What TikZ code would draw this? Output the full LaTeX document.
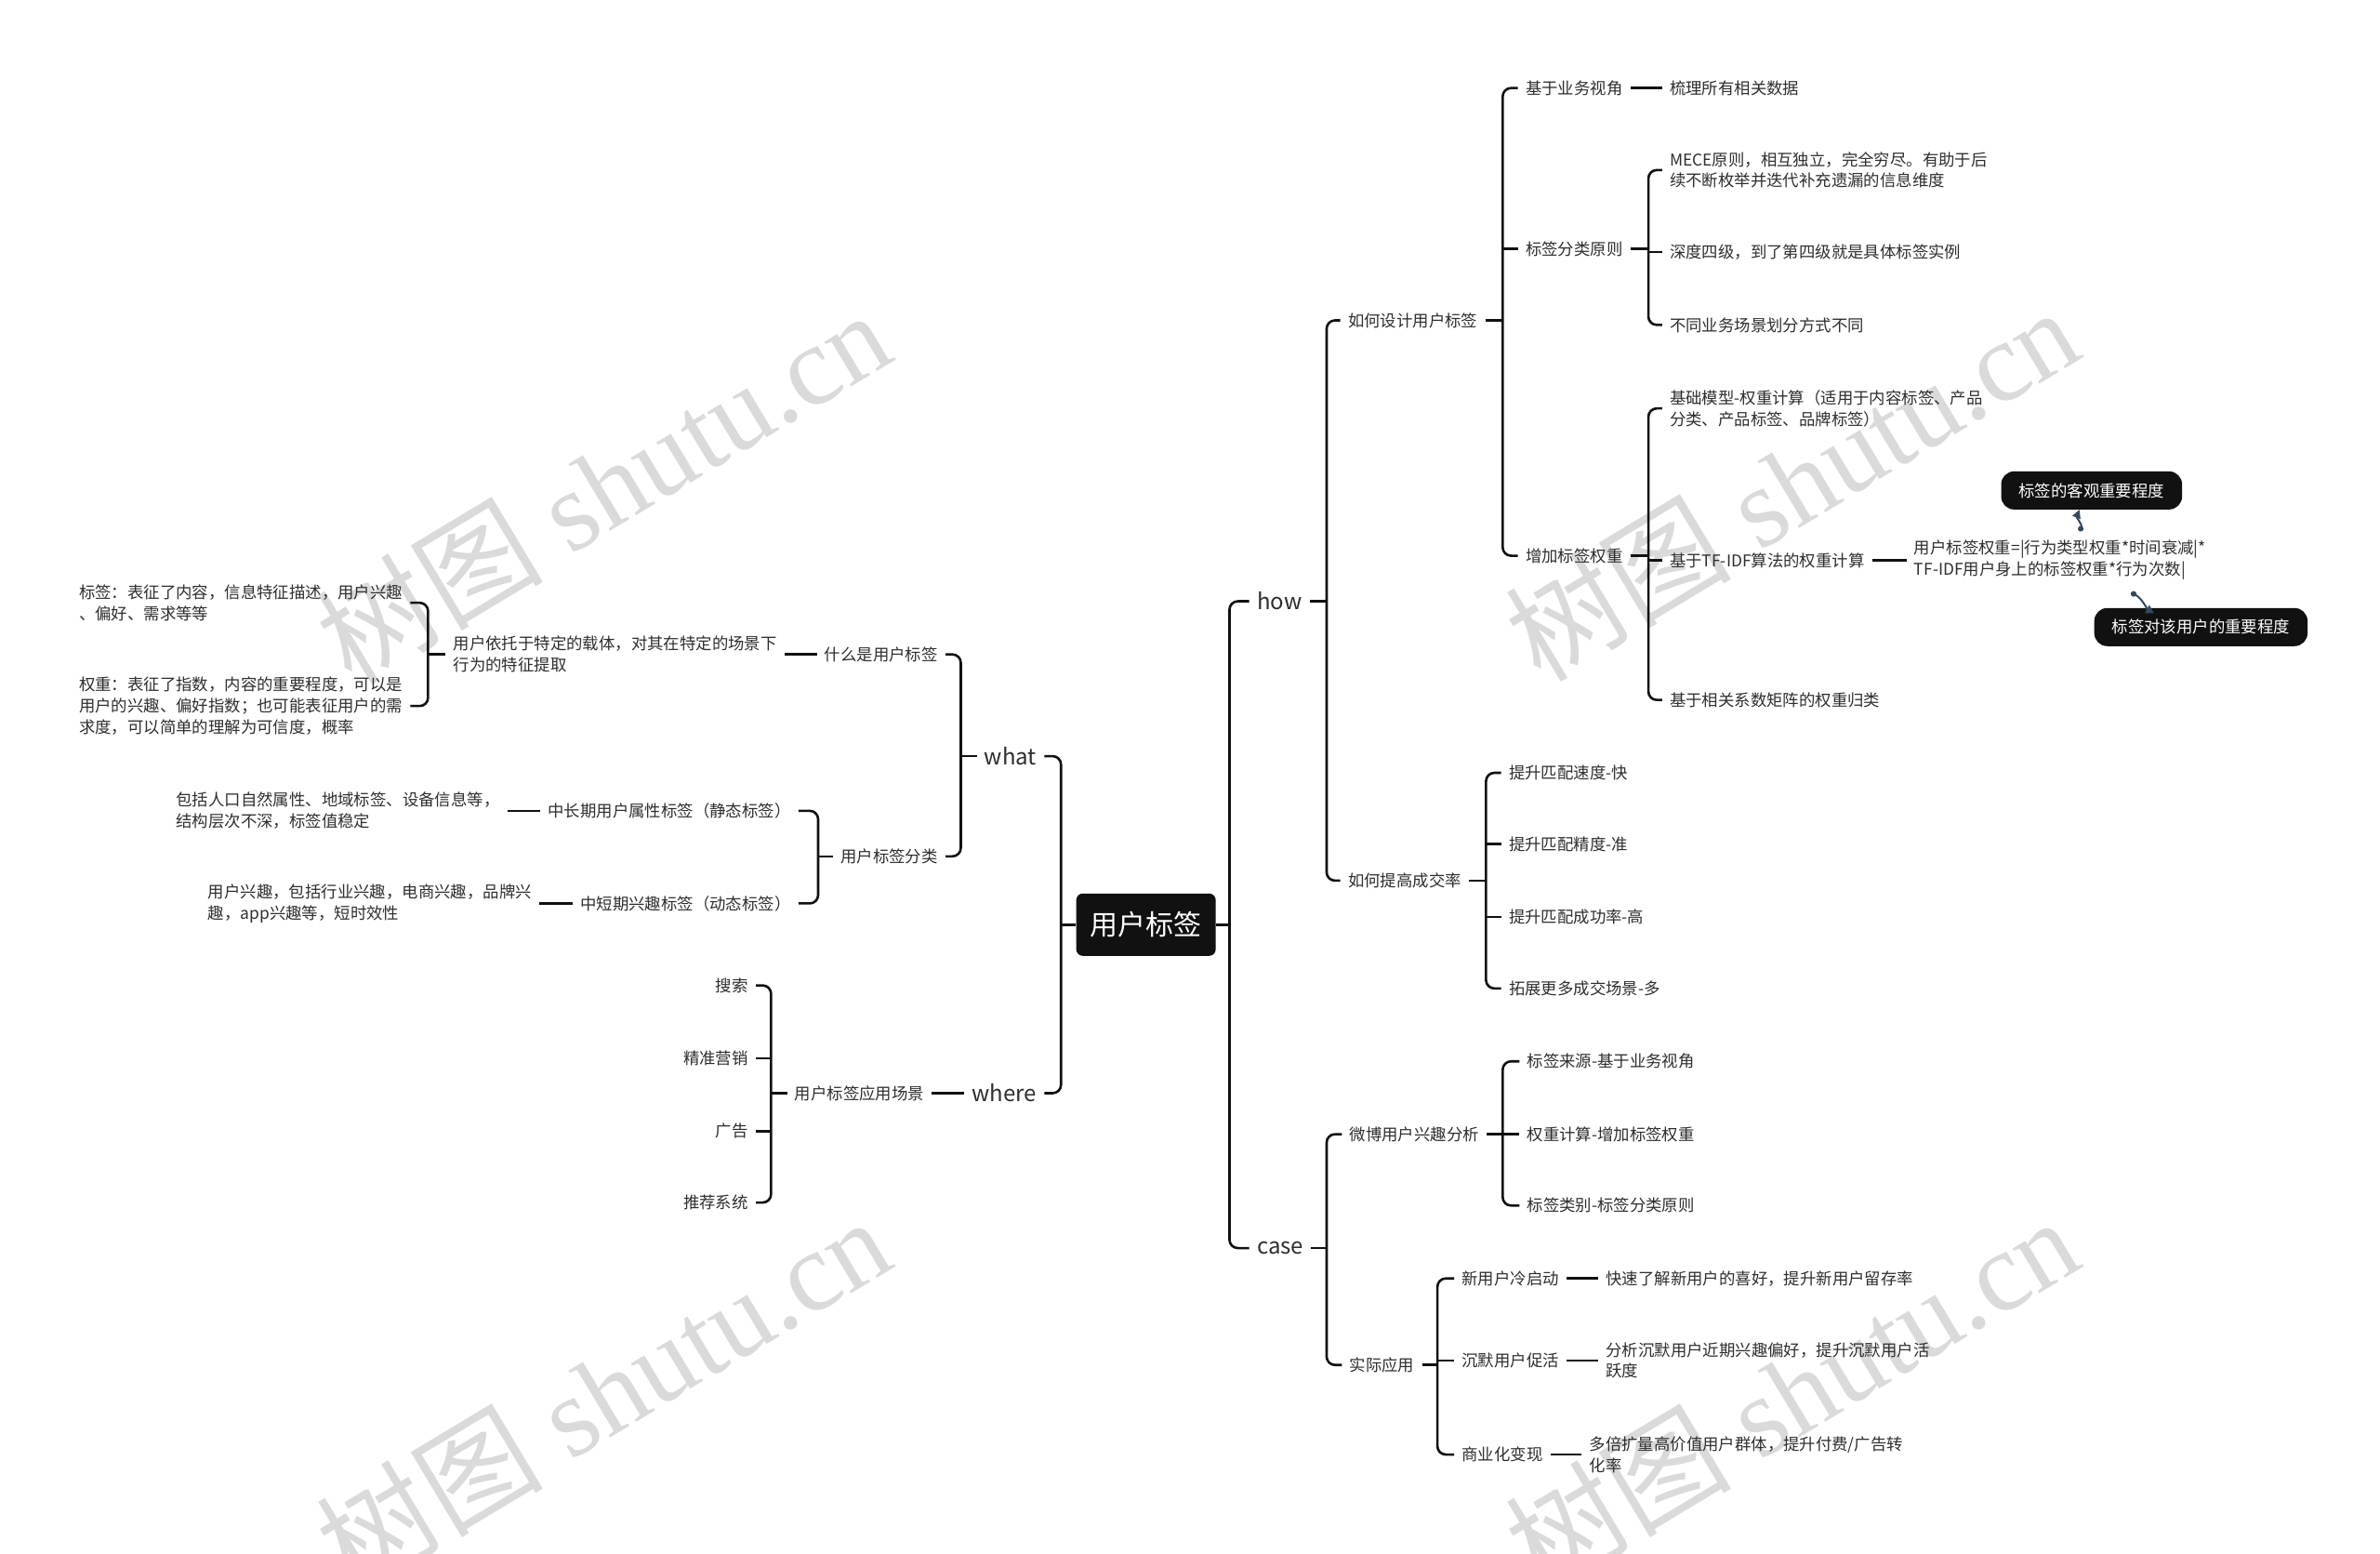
\documentclass[tikz,border=0pt]{standalone}
\usepackage{fontspec}
\newfontfamily\cjk{Noto Sans CJK SC}
\newfontfamily\wmserif{Liberation Serif}
\usetikzlibrary{arrows.meta}
\definecolor{txt}{HTML}{2E2E2E}
\definecolor{lin}{HTML}{111111}
\definecolor{dark}{HTML}{111111}
\definecolor{arrc}{HTML}{34495E}
\definecolor{wmc}{HTML}{DADADA}
\tikzset{
  t/.style={font={\cjk\fontsize{17.4bp}{22.9bp}\selectfont}, text=txt, inner sep=0pt, align=left},
  big/.style={font={\cjk\fontsize{24bp}{28bp}\selectfont}, text=txt, inner sep=0pt},
  conn/.style={draw=lin, line width=2.6bp, rounded corners=9bp},
  rootbox/.style={fill=dark, rounded corners=7bp, text=white, font={\cjk\fontsize{30bp}{34bp}\selectfont}, minimum width=150bp, minimum height=67bp, inner sep=0pt},
  callout/.style={fill=dark, rounded corners=14bp, text=white, font={\cjk\fontsize{17.4bp}{22bp}\selectfont}, minimum height=41bp, inner xsep=19bp, inner ysep=0pt},
  arr/.style={draw=arrc, line width=2bp, {Circle[length=6bp]}-{Triangle[length=9bp,width=9bp]}},
  wm/.style={text=wmc, font={\wmserif\fontsize{122bp}{122bp}\selectfont}, inner sep=0pt, rotate=31},
}
% right-hand bracket: parent, bracket x, first child, last child
\newcommand\BrR[4]{\coordinate (bx) at (#2,0);
  \draw[conn] ([shift={(5,0)}]#1.east) -- (#1.east -| bx);
  \draw[conn] ([shift={(-5,0)}]#3.west) -- (#3.west -| bx) -- (#4.west -| bx) -- ([shift={(-5,0)}]#4.west);}
\newcommand\MidR[2]{\coordinate (bx) at (#1,0);
  \draw[conn] (#2.west -| bx) -- ([shift={(-5,0)}]#2.west);}
% left-hand bracket
\newcommand\BrL[4]{\coordinate (bx) at (#2,0);
  \draw[conn] ([shift={(-5,0)}]#1.west) -- (#1.west -| bx);
  \draw[conn] ([shift={(5,0)}]#3.east) -- (#3.east -| bx) -- (#4.east -| bx) -- ([shift={(5,0)}]#4.east);}
\newcommand\MidL[2]{\coordinate (bx) at (#1,0);
  \draw[conn] (#2.east -| bx) -- ([shift={(5,0)}]#2.east);}
\newcommand\Lnk[2]{\draw[conn] ([shift={(5,0)}]#1.east) -- ([shift={(-5,0)}]#2.west);}

\begin{document}
\begin{tikzpicture}[x=1.6327bp, y=-1.6327bp]
\fill[white] (0,0) rectangle (1568,1023);
\useasboundingbox (0,0) rectangle (1568,1023);

% watermarks
\begin{scope}
\clip (0,0) rectangle (1568,1023);
\node[wm] (wm1) at (397,320) {{\cjk 树图} shutu.cn};
\node[wm] (wm2) at (1180,318) {{\cjk 树图} shutu.cn};
\node[wm] (wm3) at (397,917) {{\cjk 树图} shutu.cn};
\node[wm] (wm4) at (1180,917) {{\cjk 树图} shutu.cn};
\end{scope}

% root
\node[rootbox] (root) at (755,609) {用户标签};

% ---------- right side ----------
\node[big, anchor=west] (how) at (828,396) {how};
\node[big, anchor=west] (case) at (828,822) {case};

\node[t, anchor=west] (d1) at (888,211) {如何设计用户标签};
\node[t, anchor=west] (d2) at (888,580) {如何提高成交率};

\node[t, anchor=west] (e1) at (1005,58) {基于业务视角};
\node[t, anchor=west] (e1a) at (1100,58) {梳理所有相关数据};
\node[t, anchor=west] (e2) at (1005,164) {标签分类原则};
\node[t, anchor=west] (e2a) at (1100,112) {MECE原则，相互独立，完全穷尽。有助于后\\续不断枚举并迭代补充遗漏的信息维度};
\node[t, anchor=west] (e2b) at (1100,166) {深度四级，到了第四级就是具体标签实例};
\node[t, anchor=west] (e2c) at (1100,214) {不同业务场景划分方式不同};
\node[t, anchor=west] (e3) at (1005,366) {增加标签权重};
\node[t, anchor=west] (e3a) at (1100,269) {基础模型-权重计算（适用于内容标签、产品\\分类、产品标签、品牌标签）};
\node[t, anchor=west] (e3b) at (1100,369) {基于TF-IDF算法的权重计算};
\node[t, anchor=west] (e3bf) at (1261,369) {用户标签权重=|行为类型权重*时间衰减|*\\TF-IDF用户身上的标签权重*行为次数|};
\node[t, anchor=west] (e3c) at (1100,461) {基于相关系数矩阵的权重归类};
\node[callout] (co1) at (1378,323) {标签的客观重要程度};
\node[callout] (co2) at (1450,413) {标签对该用户的重要程度};

\node[t, anchor=west] (f1) at (994,509) {提升匹配速度-快};
\node[t, anchor=west] (f2) at (994,556) {提升匹配精度-准};
\node[t, anchor=west] (f3) at (994,604) {提升匹配成功率-高};
\node[t, anchor=west] (f4) at (994,651) {拓展更多成交场景-多};

\node[t, anchor=west] (g1) at (889,747) {微博用户兴趣分析};
\node[t, anchor=west] (g1a) at (1006,699) {标签来源-基于业务视角};
\node[t, anchor=west] (g1b) at (1006,747) {权重计算-增加标签权重};
\node[t, anchor=west] (g1c) at (1006,794) {标签类别-标签分类原则};
\node[t, anchor=west] (g2) at (889,899) {实际应用};
\node[t, anchor=west] (g2a) at (963,842) {新用户冷启动};
\node[t, anchor=west] (g2a1) at (1058,842) {快速了解新用户的喜好，提升新用户留存率};
\node[t, anchor=west] (g2b) at (963,896) {沉默用户促活};
\node[t, anchor=west] (g2b1) at (1058,896) {分析沉默用户近期兴趣偏好，提升沉默用户活\\跃度};
\node[t, anchor=west] (g2c) at (963,958) {商业化变现};
\node[t, anchor=west] (g2c1) at (1047,958) {多倍扩量高价值用户群体，提升付费/广告转\\化率};

% ---------- left side ----------
\node[big, anchor=east] (what) at (683,498) {what};
\node[big, anchor=east] (where) at (683,720) {where};

\node[t, anchor=east] (w1) at (618,431) {什么是用户标签};
\node[t, anchor=east] (w1a) at (512,431) {用户依托于特定的载体，对其在特定的场景下\\行为的特征提取};
\node[t, anchor=west] (w1a1) at (52,397) {标签：表征了内容，信息特征描述，用户兴趣\\、偏好、需求等等};
\node[t, anchor=west] (w1a2) at (52,465) {权重：表征了指数，内容的重要程度，可以是\\用户的兴趣、偏好指数；也可能表征用户的需\\求度，可以简单的理解为可信度，概率};
\node[t, anchor=east] (w2) at (618,564) {用户标签分类};
\node[t, anchor=east] (w2a) at (521,534) {中长期用户属性标签（静态标签）};
\node[t, anchor=west] (w2a1) at (116,534) {包括人口自然属性、地域标签、设备信息等，\\结构层次不深，标签值稳定};
\node[t, anchor=east] (w2b) at (521,595) {中短期兴趣标签（动态标签）};
\node[t, anchor=west] (w2b1) at (137,595) {用户兴趣，包括行业兴趣，电商兴趣，品牌兴\\趣，app兴趣等，短时效性};

\node[t, anchor=east] (h1) at (609,720) {用户标签应用场景};
\node[t, anchor=east] (h1a) at (493,649) {搜索};
\node[t, anchor=east] (h1b) at (493,697) {精准营销};
\node[t, anchor=east] (h1c) at (493,745) {广告};
\node[t, anchor=east] (h1d) at (493,792) {推荐系统};

% ---------- connectors right ----------
\coordinate (bx) at (810,0);
\draw[conn] (root.east) -- (root.east -| bx);
\draw[conn] ([shift={(-5,0)}]how.west) -- (how.west -| bx) -- (case.west -| bx) -- ([shift={(-5,0)}]case.west);

\BrR{how}{874}{d1}{d2}
\BrR{d1}{990}{e1}{e3}
\MidR{990}{e2}
\Lnk{e1}{e1a}
\BrR{e2}{1086}{e2a}{e2c}
\MidR{1086}{e2b}
\BrR{e3}{1086}{e3a}{e3c}
\MidR{1086}{e3b}
\Lnk{e3b}{e3bf}
\BrR{d2}{979}{f1}{f4}
\MidR{979}{f2}
\MidR{979}{f3}

\BrR{case}{874}{g1}{g2}
\BrR{g1}{990}{g1a}{g1c}
\MidR{990}{g1b}
\BrR{g2}{947}{g2a}{g2c}
\MidR{947}{g2b}
\Lnk{g2a}{g2a1}
\Lnk{g2b}{g2b1}
\Lnk{g2c}{g2c1}

% small arrows to callouts
\draw[arr] ([shift={(-8,-6)}]co1.south |- e3bf.north) .. controls +(2,-4) and +(-2,5) .. ([shift={(-8,0)}]co1.south);
\draw[arr] ([shift={(-46,-10)}]co2.north) .. controls +(8,4) and +(0,6) .. ([shift={(-34,-2)}]co2.north);

% ---------- connectors left ----------
\coordinate (bx) at (699,0);
\draw[conn] (root.west) -- (root.west -| bx);
\draw[conn] ([shift={(5,0)}]what.east) -- (what.east -| bx) -- (where.east -| bx) -- ([shift={(5,0)}]where.east);

\BrL{what}{633}{w1}{w2}
\Lnk{w1a}{w1}
\BrL{w1a}{282}{w1a1}{w1a2}
\BrL{w2}{539}{w2a}{w2b}
\Lnk{w2a1}{w2a}
\Lnk{w2b1}{w2b}
\Lnk{h1}{where}
\BrL{h1}{508}{h1a}{h1d}
\MidL{508}{h1b}
\MidL{508}{h1c}
\end{tikzpicture}
\end{document}
